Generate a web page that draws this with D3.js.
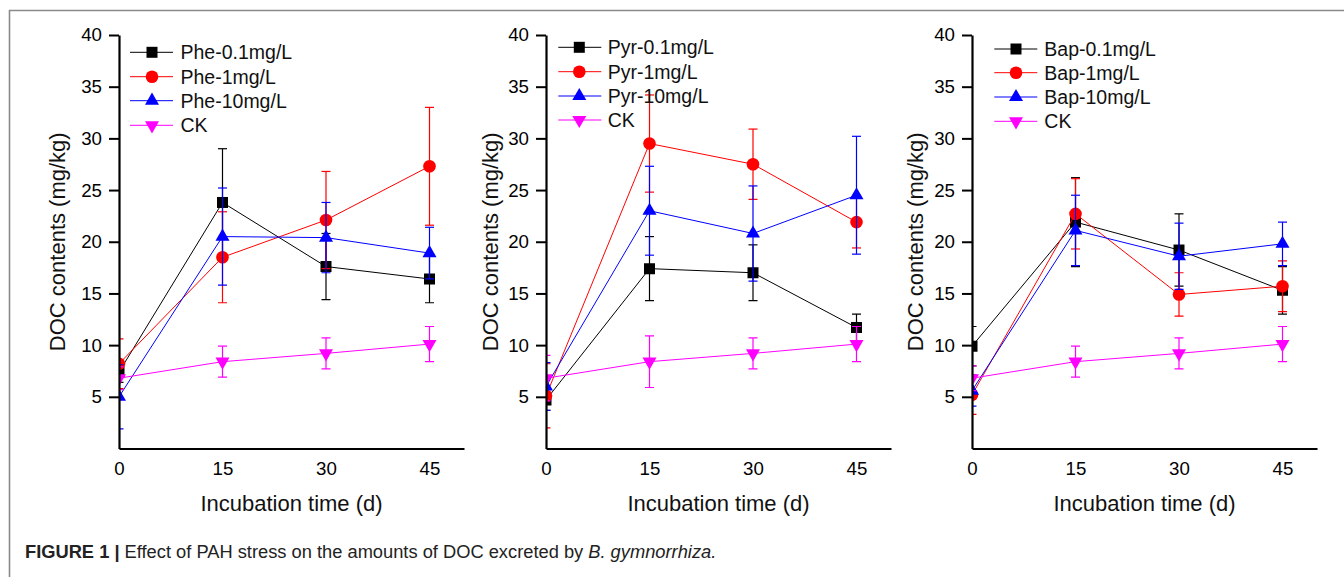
<!DOCTYPE html>
<html>
<head>
<meta charset="utf-8">
<script src="https://cdn.jsdelivr.net/npm/d3@7"></script>
<style>
  html, body { margin: 0; padding: 0; background: #fff; }
  svg { display: block; font-family: "Liberation Sans", Arial, Helvetica, sans-serif; }
</style>
</head>
<body>
<svg id="chart" width="1344" height="577"></svg>
<script>
// ---------- data ----------
const days = [0, 15, 30, 45];
const yTicks = [5, 10, 15, 20, 25, 30, 35, 40];
const xTicks = [0, 15, 30, 45];
const panelNames = ["Phe", "Pyr", "Bap"];
const seriesSuffix = ["-0.1mg/L", "-1mg/L", "-10mg/L"];
const ckName = "CK";

// Phe panel
const phe01 = [7.4, 23.8, 17.6, 16.4];
const phe01Err = [1.0, 5.2, 3.2, 2.3];
const phe1 = [8.2, 18.5, 22.1, 27.3];
const phe1Err = [2.4, 4.4, 4.7, 5.7];
const phe10 = [5.0, 20.5, 20.4, 18.9];
const phe10Err = [3.1, 4.7, 3.4, 2.5];
const pheCK = [6.8, 8.4, 9.2, 10.1];
const pheCKErr = [1.1, 1.5, 1.5, 1.7];

// Pyr panel
const pyr01 = [4.7, 17.4, 17.0, 11.7];
const pyr01Err = [1.0, 3.1, 2.7, 1.3];
const pyr1 = [5.1, 29.5, 27.5, 21.9];
const pyr1Err = [3.1, 4.7, 3.4, 2.5];
const pyr10 = [6.0, 23.0, 20.8, 24.5];
const pyr10Err = [2.3, 4.3, 4.6, 5.7];
const pyrCK = [6.8, 8.4, 9.2, 10.1];
const pyrCKErr = [2.2, 2.5, 1.5, 1.7];

// Bap panel
const bap01 = [9.9, 21.9, 19.2, 15.3];
const bap01Err = [1.9, 4.3, 3.5, 2.3];
const bap1 = [5.2, 22.7, 14.9, 15.7];
const bap1Err = [1.9, 3.4, 2.1, 2.45];
const bap10 = [5.6, 21.1, 18.6, 19.8];
const bap10Err = [1.5, 3.4, 3.2, 2.1];
const bapCK = [6.8, 8.4, 9.2, 10.1];
const bapCKErr = [1.2, 1.5, 1.5, 1.7];

const panelValues = [
  [[phe01, phe01Err], [phe1, phe1Err], [phe10, phe10Err], [pheCK, pheCKErr]],
  [[pyr01, pyr01Err], [pyr1, pyr1Err], [pyr10, pyr10Err], [pyrCK, pyrCKErr]],
  [[bap01, bap01Err], [bap1, bap1Err], [bap10, bap10Err], [bapCK, bapCKErr]]
];

// ---------- styles / layout ----------
const colors = ["#000000", "#ff0000", "#0000ff", "#ff00ff"];
const symbols = [d3.symbolSquare, d3.symbolCircle, d3.symbolTriangle, d3.symbolTriangle];
const symSizes = [121, 125, 85, 85];
const symRot = [0, 0, 0, 180];

const layout = [
  { x0: 119, yTitleX: 65,  leg: { l0: 130,   mx: 152,    tx: 180.5, ys: [52.3, 76.7, 100.7, 125.3] } },
  { x0: 546, yTitleX: 497.5, leg: { l0: 558.3, mx: 579.3, tx: 607.7, ys: [47.3, 71.7, 96.0, 120.0] } },
  { x0: 972, yTitleX: 923, leg: { l0: 994.3, mx: 1016,   tx: 1044.3, ys: [49.0, 72.7, 97.0, 121.3] } }
];
const plotW = 345, yTop = 35, yBottom = 448.5;

const svg = d3.select("#chart");

// frame
svg.append("line").attr("x1", 9).attr("x2", 1344).attr("y1", 10.5).attr("y2", 10.5)
  .attr("stroke", "#8a8a8a").attr("stroke-width", 1.6);
svg.append("line").attr("x1", 9.5).attr("x2", 9.5).attr("y1", 10).attr("y2", 577)
  .attr("stroke", "#8a8a8a").attr("stroke-width", 1.6);

const sym = (i) => d3.symbol().type(symbols[i]).size(symSizes[i]);

layout.forEach((L, p) => {
  const x = d3.scaleLinear().domain([0, 50]).range([L.x0, L.x0 + plotW]);
  const y = d3.scaleLinear().domain([0, 40]).range([yBottom, yTop]);
  const g = svg.append("g");

  const clipId = "clip" + p;
  svg.append("defs").append("clipPath").attr("id", clipId)
    .append("rect").attr("x", L.x0).attr("y", 0).attr("width", plotW + 20).attr("height", yBottom);

  const plot = g.append("g").attr("clip-path", `url(#${clipId})`);

  panelValues[p].forEach(([vals, errs], s) => {
    const pts = days.map((d, i) => ({ d, v: vals[i], e: errs[i] }));
    const c = colors[s];
    const sg = plot.append("g");
    sg.append("path").datum(pts)
      .attr("fill", "none").attr("stroke", c).attr("stroke-width", 1)
      .attr("d", d3.line().x(q => x(q.d)).y(q => y(q.v)));
    // error bars
    pts.forEach(q => {
      const eg = sg.append("g").attr("stroke", c).attr("stroke-width", 1.2);
      eg.append("line").attr("x1", x(q.d)).attr("x2", x(q.d))
        .attr("y1", y(q.v - q.e)).attr("y2", y(q.v + q.e));
      [q.v - q.e, q.v + q.e].forEach(v => {
        eg.append("line").attr("x1", x(q.d) - 4.5).attr("x2", x(q.d) + 4.5)
          .attr("y1", y(v)).attr("y2", y(v));
      });
    });
    sg.selectAll("path.m").data(pts).join("path").attr("class", "m")
      .attr("d", sym(s))
      .attr("transform", q => `translate(${x(q.d)},${y(q.v)}) rotate(${symRot[s]})`)
      .attr("fill", c);
  });

  // axes
  const yAxis = d3.axisLeft(y).tickValues(yTicks).tickSize(10).tickSizeOuter(0).tickPadding(7);
  const ya = g.append("g").attr("transform", `translate(${L.x0},0)`).call(yAxis);
  const xAxis = d3.axisBottom(x).tickValues(xTicks).tickSize(0).tickSizeOuter(0).tickPadding(13);
  const xa = g.append("g").attr("transform", `translate(0,${yBottom})`).call(xAxis);
  [ya, xa].forEach(a => {
    a.select(".domain").attr("stroke", "#000").attr("stroke-width", 2.2);
    a.selectAll(".tick line").attr("stroke", "#000").attr("stroke-width", 2);
    a.selectAll(".tick text").attr("fill", "#000").attr("font-size", 18.7)
      .attr("font-family", "Liberation Sans, Arial, sans-serif");
  });

  // titles
  g.append("text").attr("x", L.x0 + plotW / 2).attr("y", 510.5)
    .attr("text-anchor", "middle").attr("font-size", 22).attr("fill", "#111")
    .text("Incubation time (d)");
  g.append("text")
    .attr("transform", `translate(${L.yTitleX},${(yTop + yBottom) / 2}) rotate(-90)`)
    .attr("text-anchor", "middle").attr("font-size", 22).attr("fill", "#111")
    .text("DOC contents (mg/kg)");

  // legend
  const labels = seriesSuffix.map(sfx => panelNames[p] + sfx).concat([ckName]);
  labels.forEach((lab, s) => {
    const ly = L.leg.ys[s];
    const lg = g.append("g");
    lg.append("line").attr("x1", L.leg.l0).attr("x2", L.leg.l0 + 43)
      .attr("y1", ly).attr("y2", ly).attr("stroke", colors[s]).attr("stroke-width", 1);
    lg.append("path").attr("d", sym(s)())
      .attr("transform", `translate(${L.leg.mx},${ly}) rotate(${symRot[s]})`)
      .attr("fill", colors[s]);
    lg.append("text").attr("x", L.leg.tx).attr("y", ly).attr("dy", "0.36em")
      .attr("font-size", 19.5).attr("fill", "#111").text(lab);
  });
});

// caption
const cap = svg.append("text").attr("x", 25).attr("y", 557.5).attr("font-size", 18.3).attr("fill", "#222");
cap.append("tspan").attr("font-weight", "bold").text("FIGURE 1 | ");
cap.append("tspan").text("Effect of PAH stress on the amounts of DOC excreted by ");
cap.append("tspan").attr("font-style", "italic").text("B. gymnorrhiza.");
</script>
</body>
</html>
